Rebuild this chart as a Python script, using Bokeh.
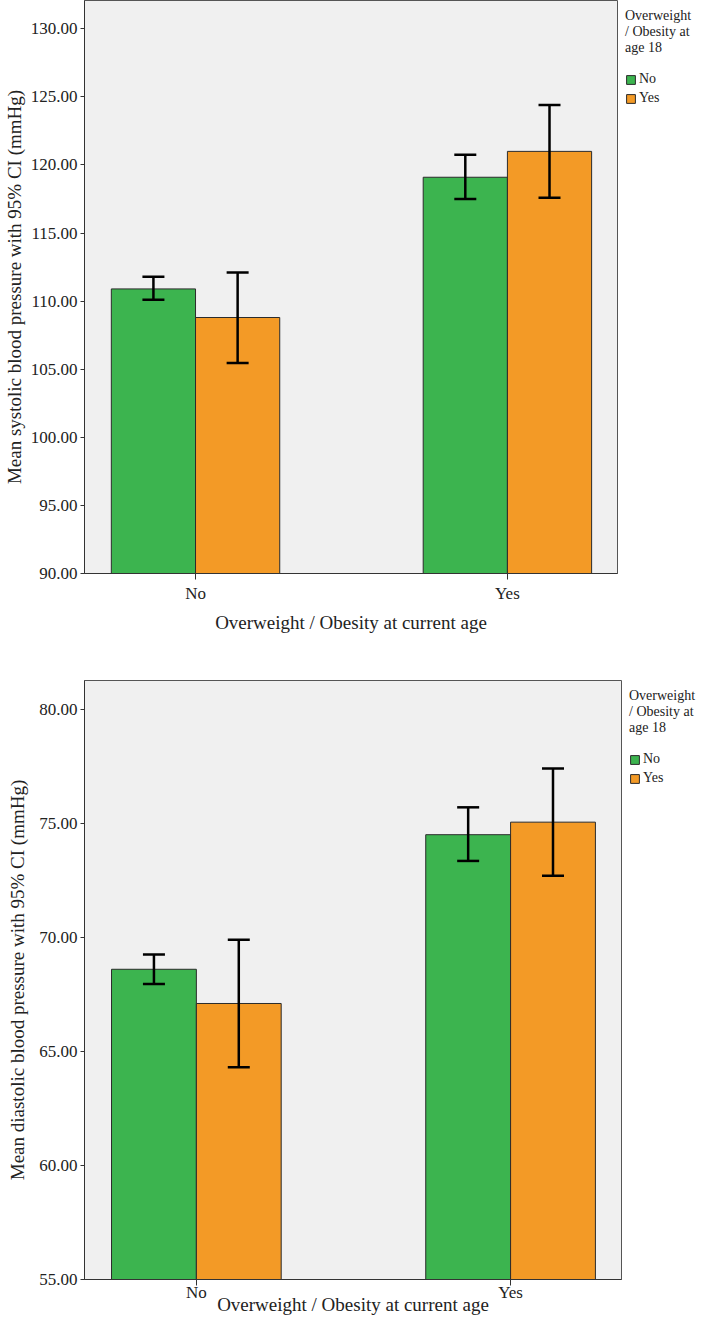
import numpy as np
from bokeh.plotting import figure
from bokeh.models import (ColumnDataSource, Range1d, FixedTicker, Whisker, TeeHead,
                          Legend, LegendItem, PrintfTickFormatter)
from bokeh.layouts import column
from bokeh.embed import file_html
from bokeh.resources import INLINE

# ---------------- data ----------------
current_age = ["No", "Yes"]          # x categories: Overweight / Obesity at current age
age18_groups = ["No", "Yes"]         # legend groups: Overweight / Obesity at age 18

sbp_mean_no18 = [110.9, 119.1]
sbp_low_no18 = [110.1, 117.5]
sbp_high_no18 = [111.8, 120.75]
sbp_mean_yes18 = [108.8, 121.0]
sbp_low_yes18 = [105.45, 117.6]
sbp_high_yes18 = [112.1, 124.4]

dbp_mean_no18 = [68.6, 74.5]
dbp_low_no18 = [67.95, 73.35]
dbp_high_no18 = [69.25, 75.7]
dbp_mean_yes18 = [67.1, 75.05]
dbp_low_yes18 = [64.3, 72.7]
dbp_high_yes18 = [69.9, 77.4]

sbp_ticks = [90, 95, 100, 105, 110, 115, 120, 125, 130]
dbp_ticks = [55, 60, 65, 70, 75, 80]

legend_title_lines = ["Overweight", "/ Obesity at", "age 18"]
x_title = "Overweight / Obesity at current age"
sbp_title = "Mean systolic blood pressure with 95% CI (mmHg)"
dbp_title = "Mean diastolic blood pressure with 95% CI (mmHg)"

# ---------------- style ----------------
GREEN = "#3cb44f"
ORANGE = "#f39a26"
FONT = "Liberation Serif"
BAR_W = 0.27


def make_panel(means, lows, highs, ticks, y_start, y_end, y_title,
               frame_w, frame_h, left_b, top_b, bottom_b,
               xl_standoff, xt_standoff, yt_standoff):
    idx = np.arange(len(current_age))
    p = figure(x_range=Range1d(-0.356, 1.353), y_range=Range1d(y_start, y_end),
               frame_width=frame_w, frame_height=frame_h,
               min_border_left=left_b, min_border_top=top_b,
               min_border_bottom=bottom_b, min_border_right=0,
               output_backend="svg", toolbar_location=None,
               background_fill_color="#f0f0f0", border_fill_color="white",
               outline_line_color="#555555", outline_line_width=1)
    p.xgrid.visible = False
    p.ygrid.visible = False

    renderers = []
    for gi, (grp, color) in enumerate(zip(age18_groups, [GREEN, ORANGE])):
        off = (gi - 0.5) * BAR_W
        src = ColumnDataSource(dict(x=idx + off, top=means[gi],
                                    lower=lows[gi], upper=highs[gi]))
        r = p.vbar(x="x", top="top", bottom=y_start, width=BAR_W, source=src,
                   fill_color=color, line_color="#2b2b2b", line_width=1)
        renderers.append(r)
        w = Whisker(base="x", lower="lower", upper="upper", source=src,
                    line_color="black", line_width=2.5, level="annotation",
                    upper_head=TeeHead(size=22, line_color="black", line_width=2.5),
                    lower_head=TeeHead(size=22, line_color="black", line_width=2.5))
        p.add_layout(w)

    # x axis
    xa = p.xaxis[0]
    xa.ticker = FixedTicker(ticks=list(idx))
    xa.major_label_overrides = {int(i): c for i, c in zip(idx, current_age)}
    xa.major_tick_out = 6
    xa.major_tick_in = 0
    xa.minor_tick_out = 0
    xa.minor_tick_in = 0
    xa.axis_line_color = "#333333"
    xa.major_tick_line_color = "#333333"
    xa.major_label_text_font = FONT
    xa.major_label_text_font_size = "17px"
    xa.major_label_text_color = "#222222"
    xa.major_label_standoff = xl_standoff
    xa.axis_label = x_title
    xa.axis_label_text_font = FONT
    xa.axis_label_text_font_size = "19px"
    xa.axis_label_text_font_style = "normal"
    xa.axis_label_text_color = "#222222"
    xa.axis_label_standoff = xt_standoff

    # y axis
    ya = p.yaxis[0]
    ya.ticker = FixedTicker(ticks=ticks)
    ya.formatter = PrintfTickFormatter(format="%.2f")
    ya.major_tick_out = 4
    ya.major_tick_in = 0
    ya.minor_tick_out = 0
    ya.minor_tick_in = 0
    ya.axis_line_color = "#333333"
    ya.major_tick_line_color = "#333333"
    ya.major_label_text_font = FONT
    ya.major_label_text_font_size = "17px"
    ya.major_label_text_color = "#222222"
    ya.major_label_standoff = 3
    ya.axis_label = y_title
    ya.axis_label_text_font = FONT
    ya.axis_label_text_font_size = "19px"
    ya.axis_label_text_font_style = "normal"
    ya.axis_label_text_color = "#222222"
    ya.axis_label_standoff = yt_standoff

    legend = Legend(items=[LegendItem(label=g, renderers=[r])
                           for g, r in zip(age18_groups, renderers)],
                    location="top_left", orientation="vertical", margin=0,
                    padding=8, spacing=3,
                    glyph_width=11, glyph_height=11, label_height=13,
                    label_standoff=3, label_text_font=FONT,
                    label_text_font_size="14px", label_text_color="#222222",
                    title="\n".join(legend_title_lines),
                    title_text_font=FONT, title_text_font_size="14px",
                    title_text_font_style="normal", title_text_color="#222222",
                    title_standoff=15,
                    background_fill_alpha=0, border_line_alpha=0)
    p.add_layout(legend, "right")
    return p


p1 = make_panel([sbp_mean_no18, sbp_mean_yes18], [sbp_low_no18, sbp_low_yes18],
                [sbp_high_no18, sbp_high_yes18], sbp_ticks, 90, 132.08, sbp_title,
                533, 573, 84, 0, 75, 4, 6, 3)
p2 = make_panel([dbp_mean_no18, dbp_mean_yes18], [dbp_low_no18, dbp_low_yes18],
                [dbp_high_no18, dbp_high_yes18], dbp_ticks, 55, 81.26, dbp_title,
                537, 599, 82, 32, 35, -3, -11, 8)

layout = column(p1, p2, spacing=0)
open("out.html", "w").write(file_html(layout, INLINE))
